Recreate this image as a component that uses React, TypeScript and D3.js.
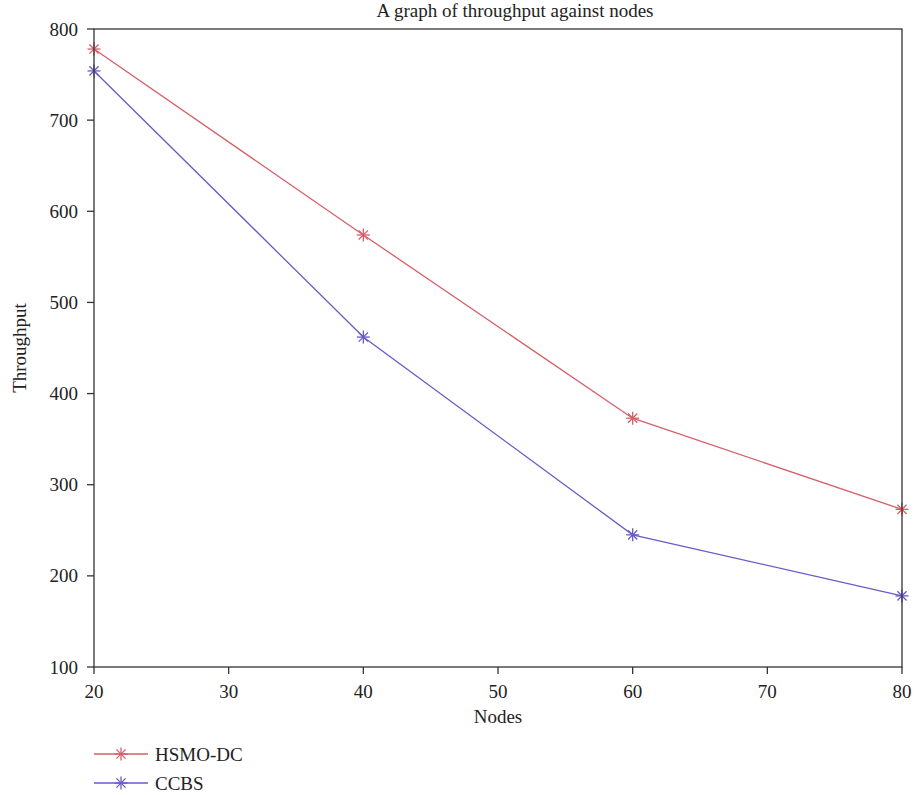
import React from "react";
import * as d3 from "d3";

const nodes = [20, 40, 60, 80];
const hsmoDC = [778, 574, 373, 273];
const ccbs = [754, 462, 245, 178];
const xTicks = [20, 30, 40, 50, 60, 70, 80];
const yTicks = [100, 200, 300, 400, 500, 600, 700, 800];
const seriesNames = ["HSMO-DC", "CCBS"];
const seriesColors = ["#d65f69", "#6a5bc6"];

const W = 914, H = 795;
const M = { left: 94, right: 902, top: 29, bottom: 667 };
const FONT = "'Liberation Serif', 'DejaVu Serif', serif";
const FS = 19;

function Star({ x, y, color, r = 6.5 }: { x: number; y: number; color: string; r?: number }) {
  const d = r * Math.SQRT1_2;
  return (
    <g stroke={color} strokeWidth={1.3}>
      <line x1={x - r} y1={y} x2={x + r} y2={y} />
      <line x1={x} y1={y - r} x2={x} y2={y + r} />
      <line x1={x - d} y1={y - d} x2={x + d} y2={y + d} />
      <line x1={x - d} y1={y + d} x2={x + d} y2={y - d} />
    </g>
  );
}

export default function App() {
  const x = d3.scaleLinear().domain([20, 80]).range([M.left, M.right]);
  const y = d3.scaleLinear().domain([100, 800]).range([M.bottom, M.top]);
  const line = d3
    .line<[number, number]>()
    .x((d) => x(d[0]))
    .y((d) => y(d[1]));
  const series = [hsmoDC, ccbs];

  return (
    <svg
      width={W}
      height={H}
      style={{ position: "absolute", left: 0, top: 0, display: "block", background: "#fff" }}
      fontFamily={FONT}
    >
      <text x={515} y={17} textAnchor="middle" fontSize={FS} fill="#222">
        A graph of throughput against nodes
      </text>
      {series.map((vals, i) => (
        <g key={i}>
          <path
            d={line(vals.map((v, j) => [nodes[j], v] as [number, number])) || ""}
            fill="none"
            stroke={seriesColors[i]}
            strokeWidth={1.3}
          />
          {vals.map((v, j) => (
            <Star key={j} x={x(nodes[j])} y={y(v)} color={seriesColors[i]} />
          ))}
        </g>
      ))}
      <rect
        x={M.left}
        y={M.top}
        width={M.right - M.left}
        height={M.bottom - M.top}
        fill="none"
        stroke="#333"
        strokeWidth={1.3}
      />
      {yTicks.map((t) => (
        <g key={t}>
          <line x1={M.left - 7} x2={M.left} y1={y(t)} y2={y(t)} stroke="#333" strokeWidth={1.3} />
          <text x={M.left - 16} y={y(t) + 6.5} textAnchor="end" fontSize={FS} fill="#222">
            {t}
          </text>
        </g>
      ))}
      {xTicks.map((t) => (
        <g key={t}>
          <line x1={x(t)} x2={x(t)} y1={M.bottom} y2={M.bottom + 7} stroke="#333" strokeWidth={1.3} />
          <text x={x(t)} y={M.bottom + 31} textAnchor="middle" fontSize={FS} fill="#222">
            {t}
          </text>
        </g>
      ))}
      <text x={(M.left + M.right) / 2} y={723} textAnchor="middle" fontSize={FS} fill="#222">
        Nodes
      </text>
      <text
        transform={`translate(26, ${(M.top + M.bottom) / 2}) rotate(-90)`}
        textAnchor="middle"
        fontSize={FS}
        fill="#222"
      >
        Throughput
      </text>
      {seriesNames.map((name, i) => {
        const ly = 754 + i * 29;
        return (
          <g key={name}>
            <line x1={94} x2={148} y1={ly} y2={ly} stroke={seriesColors[i]} strokeWidth={1.3} />
            <Star x={121} y={ly} color={seriesColors[i]} />
            <text x={155} y={ly + 6.5} fontSize={FS} fill="#222">
              {name}
            </text>
          </g>
        );
      })}
    </svg>
  );
}
